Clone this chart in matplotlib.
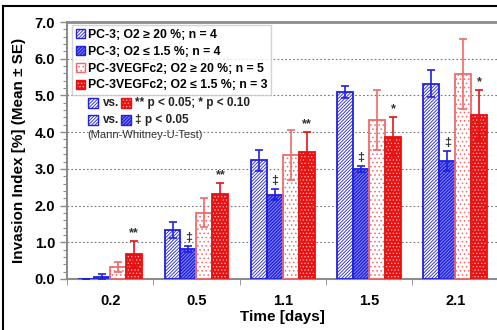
import matplotlib
matplotlib.use('Agg')
import matplotlib.pyplot as plt
import matplotlib.patches as mpatches
from matplotlib.lines import Line2D
import numpy as np

plt.rcParams['font.family'] = ['Liberation Sans', 'DejaVu Sans']
plt.rcParams['hatch.linewidth'] = 0.6

# data
times = ['0.2', '0.5', '1.1', '1.5', '2.1']
pc3_hi = [0.0, 1.33, 3.23, 5.09, 5.32]
pc3_hi_err = [0.0, 0.21, 0.28, 0.16, 0.36]
pc3_lo = [0.05, 0.82, 2.30, 3.00, 3.21]
pc3_lo_err = [0.09, 0.08, 0.15, 0.09, 0.27]
vegf_hi = [0.33, 1.81, 3.38, 4.33, 5.58]
vegf_hi_err = [0.14, 0.40, 0.67, 0.82, 0.95]
vegf_lo = [0.68, 2.31, 3.46, 3.88, 4.47]
vegf_lo_err = [0.36, 0.30, 0.54, 0.54, 0.68]
labels = ['PC-3; O2 \u2265 20 %; n = 4', 'PC-3; O2 \u2264 1.5 %; n = 4',
          'PC-3VEGFc2; O2 \u2265 20 %; n = 5', 'PC-3VEGFc2; O2 \u2264 1.5 %; n = 3']
red_marks = ['**', '**', '**', '*', '*']
blue_marks = ['', '\u2021', '\u2021', '\u2021', '\u2021']

BLUE = '#2020e0'
RED = '#e81010'
PINK = '#f06a6a'
GRAY = '#8c8c8c'

# (face, hatch, hatchcolor, edge)
styles = [
    ('white', '//////////', BLUE, BLUE),
    (BLUE, '//////////', '#9a9af5', BLUE),
    ('white', '....', PINK, PINK),
    (RED, '.....', '#ffb0b0', RED),
]
err_colors = [BLUE, BLUE, PINK, RED]

fig = plt.figure(figsize=(4.97, 3.30), dpi=100)
ax = fig.add_axes([67 / 497, 51 / 330, 431.5 / 497, 257 / 330])

x = np.arange(len(times))
w = 0.185
series = [(pc3_hi, pc3_hi_err), (pc3_lo, pc3_lo_err),
          (vegf_hi, vegf_hi_err), (vegf_lo, vegf_lo_err)]

for i, ((vals, errs), (fc, hatch, hc, ec)) in enumerate(zip(series, styles)):
    xs = x + (i - 1.5) * w
    ax.bar(xs, vals, w, color=fc, edgecolor='none', zorder=2)
    ax.bar(xs, vals, w, color='none', edgecolor=hc, hatch=hatch, linewidth=0, zorder=2)
    ax.bar(xs, vals, w, color='none', edgecolor=ec, linewidth=1.3, zorder=3)
    ax.errorbar(xs, vals, yerr=errs, fmt='none', ecolor=err_colors[i],
                elinewidth=1.2, capsize=3, capthick=1.2, zorder=4)

# significance marks
for j in range(len(times)):
    if red_marks[j]:
        ax.text(x[j] + 1.5 * w, vegf_lo[j] + vegf_lo_err[j] + 0.05, red_marks[j],
                ha='center', va='bottom', fontsize=9, fontweight='bold', color='#333333')
    if blue_marks[j]:
        ax.text(x[j] - 0.5 * w, pc3_lo[j] + pc3_lo_err[j] + 0.05, blue_marks[j],
                ha='center', va='bottom', fontsize=9, fontweight='bold', color='#333333')

ax.set_xlim(-0.5, 4.5)
ax.set_ylim(0, 7)
ax.set_yticks(np.arange(0, 7.1, 1))
ax.set_yticklabels([f'{v:.1f}' for v in np.arange(0, 7.1, 1)],
                   fontsize=10.5, fontweight='bold')
ax.set_yticks(np.arange(0, 7.01, 0.2), minor=True)
ax.set_xticks(x)
ax.set_xticklabels(times, fontsize=10.5, fontweight='bold')
ax.set_xticks(np.arange(-0.5, 4.6, 1), minor=True)
ax.tick_params(axis='x', which='major', length=0, pad=11)
ax.tick_params(axis='x', which='minor', length=4, color=GRAY, direction='out')
ax.tick_params(axis='y', which='major', length=5, color=GRAY, width=1)
ax.tick_params(axis='y', which='minor', length=3, color=GRAY, width=0.8)

for yv in range(1, 7):
    ax.axhline(yv, color='#777777', linestyle=(0, (1.5, 2)), linewidth=0.8, zorder=1)

for s in ['left', 'bottom', 'top', 'right']:
    ax.spines[s].set_color(GRAY)
    ax.spines[s].set_linewidth(1.5)
ax.spines['top'].set_linewidth(2)

ax.set_ylabel('Invasion Index [%] (Mean \u00b1 SE)', fontsize=11, fontweight='bold', labelpad=6)
ax.set_xlabel('Time [days]', fontsize=11, fontweight='bold', labelpad=1)

# legend
handles = []
for fc, hatch, hc, ec in styles:
    h = (mpatches.Patch(facecolor=fc, edgecolor='none'),
         mpatches.Patch(facecolor='none', edgecolor=hc, hatch=hatch, linewidth=0),
         mpatches.Patch(facecolor='none', edgecolor=ec, linewidth=1))
    handles.append(h)
leg = ax.legend(handles, labels, loc='upper left', bbox_to_anchor=(0.012, 0.988),
                prop={'weight': 'bold', 'size': 8.8}, frameon=True, fancybox=False,
                handlelength=0.75, handleheight=0.75, handletextpad=0.25,
                labelspacing=0.4, borderpad=0.3, borderaxespad=0)
leg.get_frame().set_edgecolor('#c8c8c8')
leg.get_frame().set_linewidth(1)


def axx(px):
    return (px - 67) / 431.5


def axy(py):
    return (279 - py) / 257


def key(xpx, ypx, style):
    fc, hatch, hc, ec = style
    for kw in [dict(facecolor=fc, edgecolor='none'),
               dict(facecolor='none', edgecolor=hc, hatch=hatch, linewidth=0),
               dict(facecolor='none', edgecolor=ec, linewidth=1)]:
        ax.add_patch(mpatches.Rectangle((axx(xpx), axy(ypx + 5)), 10 / 431.5, 10 / 257,
                                        transform=ax.transAxes, zorder=5, **kw))


key(88, 103, styles[0])
ax.text(axx(103), axy(103), 'vs.', transform=ax.transAxes, ha='left', va='center',
        fontsize=8.5, fontweight='bold', color='#222222')
key(121, 103, styles[3])
ax.text(axx(135), axy(103), '** p < 0.05; * p < 0.10', transform=ax.transAxes,
        ha='left', va='center', fontsize=8.5, fontweight='bold', color='#222222')
key(88, 120, styles[0])
ax.text(axx(103), axy(120), 'vs.', transform=ax.transAxes, ha='left', va='center',
        fontsize=8.5, fontweight='bold', color='#222222')
key(121, 120, styles[1])
ax.text(axx(135), axy(120), '\u2021 p < 0.05', transform=ax.transAxes,
        ha='left', va='center', fontsize=8.5, fontweight='bold', color='#222222')
ax.text(axx(87), axy(135), '(Mann-Whitney-U-Test)', transform=ax.transAxes,
        ha='left', va='center', fontsize=8, color='#333333')

# outer frame (top and left edges visible)
fig.add_artist(Line2D([3 / 497, 1], [1 - 6 / 330, 1 - 6 / 330], color='black', linewidth=1.5))
fig.add_artist(Line2D([3 / 497, 3 / 497], [0, 1 - 6 / 330], color='black', linewidth=1.5))

fig.savefig('out.png', dpi=100, facecolor='white')
